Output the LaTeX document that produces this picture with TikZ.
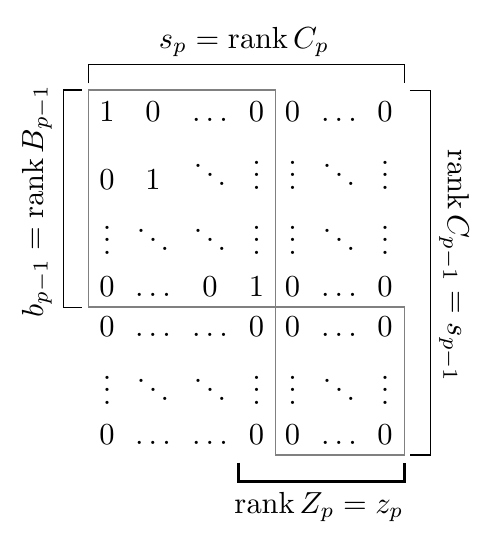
\documentclass[tikz,border=0pt]{standalone}
\usepackage{amsmath}
\begin{document}
\begin{tikzpicture}[x=0.328pt,y=-0.328pt,
  ent/.style={inner sep=0pt,anchor=base},
  lbl/.style={inner sep=0pt,anchor=base},
  graybox/.style={draw=gray,line width=0.45pt},
  brk/.style={draw=black,line width=0.5pt},
  brkthick/.style={draw=black,line width=0.85pt}]
\useasboundingbox (0,0) rectangle (496,547);
\newcommand\ent[4]{\node[ent] (#1) at (#2,#3) {$#4$};}
% row 1
\ent{a1}{107}{121}{1}
\ent{a2}{153}{121}{0}
\ent{a3}{210}{121}{\ldots}
\ent{a4}{256.5}{121}{0}
\ent{a5}{292.5}{121}{0}
\ent{a6}{339}{121}{\ldots}
\ent{a7}{385}{121}{0}
% row 2
\ent{b1}{107}{189}{0}
\ent{b2}{153}{189}{1}
\ent{b3}{210}{189}{\ddots}
\ent{b4}{256.5}{189}{\vdots}
\ent{b5}{292.5}{189}{\vdots}
\ent{b6}{339}{189}{\ddots}
\ent{b7}{385}{189}{\vdots}
% row 3
\ent{c1}{107}{254}{\vdots}
\ent{c2}{153}{254}{\ddots}
\ent{c3}{210}{254}{\ddots}
\ent{c4}{256.5}{254}{\vdots}
\ent{c5}{292.5}{254}{\vdots}
\ent{c6}{339}{254}{\ddots}
\ent{c7}{385}{254}{\vdots}
% row 4
\ent{d1}{107}{296.5}{0}
\ent{d2}{153}{296.5}{\ldots}
\ent{d3}{210}{296.5}{0}
\ent{d4}{256.5}{296.5}{1}
\ent{d5}{292.5}{296.5}{0}
\ent{d6}{339}{296.5}{\ldots}
\ent{d7}{385}{296.5}{0}
% row 5
\ent{e1}{107}{336.5}{0}
\ent{e2}{153}{336.5}{\ldots}
\ent{e3}{210}{336.5}{\ldots}
\ent{e4}{256.5}{336.5}{0}
\ent{e5}{292.5}{336.5}{0}
\ent{e6}{339}{336.5}{\ldots}
\ent{e7}{385}{336.5}{0}
% row 6
\ent{f1}{107}{404}{\vdots}
\ent{f2}{153}{404}{\ddots}
\ent{f3}{210}{404}{\ddots}
\ent{f4}{256.5}{404}{\vdots}
\ent{f5}{292.5}{404}{\vdots}
\ent{f6}{339}{404}{\ddots}
\ent{f7}{385}{404}{\vdots}
% row 7
\ent{g1}{107}{444.5}{0}
\ent{g2}{153}{444.5}{\ldots}
\ent{g3}{210}{444.5}{\ldots}
\ent{g4}{256.5}{444.5}{0}
\ent{g5}{292.5}{444.5}{0}
\ent{g6}{339}{444.5}{\ldots}
\ent{g7}{385}{444.5}{0}
% gray boxes
\draw[graybox] (88.3,90) rectangle (275.7,307);
\draw[graybox] (275.7,307) rectangle (404.3,455);
% brackets
\draw[brk] (88.3,83.3) -- (88.3,64.3) -- (404.3,64.3) -- (404.3,83.3);
\draw[brk] (81.7,90) -- (63.3,90) -- (63.3,307.3) -- (81.7,307.3);
\draw[brk] (410,90.7) -- (430.7,90.7) -- (430.7,455) -- (410,455);
\draw[brkthick] (238.3,462.7) -- (238.3,481.7) -- (404.3,481.7) -- (404.3,462.7);
% labels
\node[lbl] (top) at (244,48) {$s_p = \operatorname{rank} C_p$};
\node[lbl] (bot) at (319,513) {$\operatorname{rank} Z_p = z_p$};
\node[lbl,rotate=90] (left) at (43,201) {$b_{p-1} = \operatorname{rank} B_{p-1}$};
\node[lbl,rotate=-90] (right) at (448,266) {$\operatorname{rank} C_{p-1} = s_{p-1}$};
\end{tikzpicture}
\end{document}
